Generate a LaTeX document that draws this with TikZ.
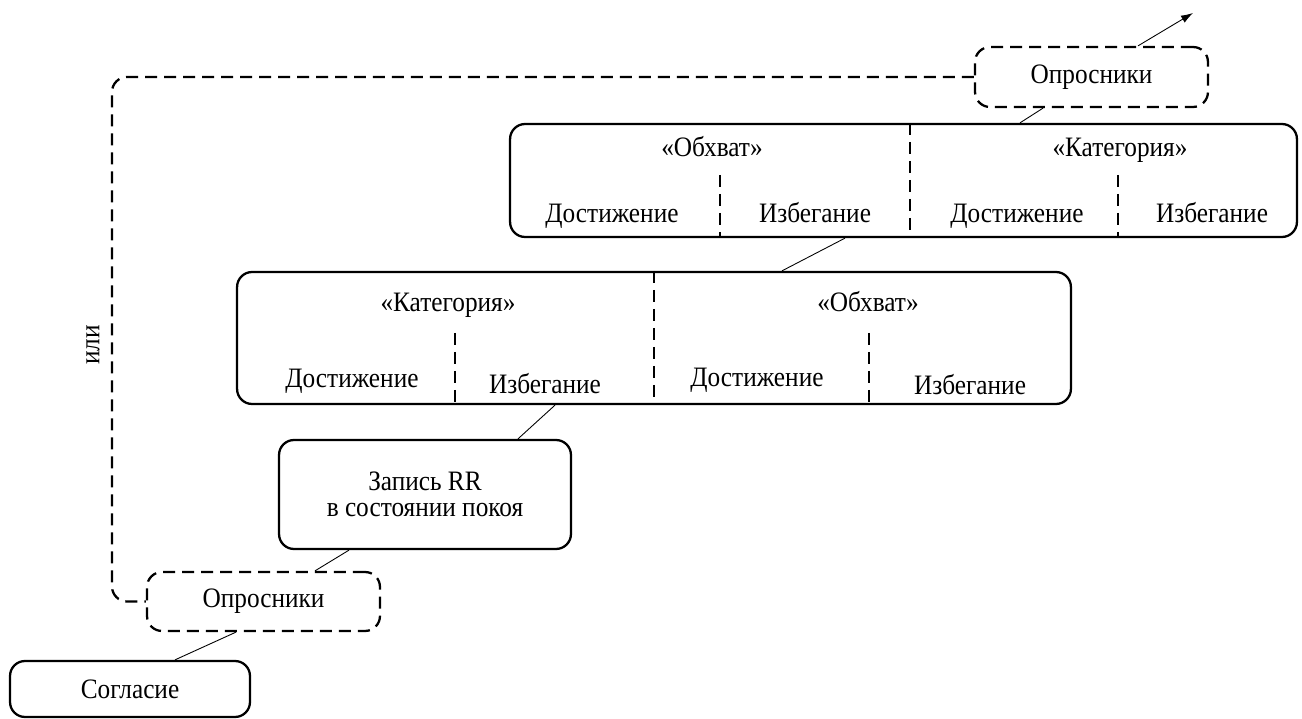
\documentclass[tikz,border=0pt]{standalone}
\usepackage{fontspec}
\setmainfont{Liberation Serif}[FakeStretch=0.9]
\usetikzlibrary{arrows.meta}

\tikzstyle{blk} = [rectangle, draw, rounded corners=0.3cm, line width=1.3pt, align=center, inner sep=0pt]
\tikzstyle{dblk} = [blk, dash pattern=on 0.24cm off 0.14cm]
\tikzstyle{lbl} = [font=\fontsize{16}{15}\selectfont, inner sep=0pt, align=center]
\tikzstyle{txt} = [lbl, anchor=base]
\tikzstyle{sep} = [line width=1.3pt, dash pattern=on 0.24cm off 0.14cm]
\tikzstyle{lnk} = [line width=0.5pt]

\begin{document}
\begin{tikzpicture}[x=0.02cm, y=-0.02cm, auto]
\useasboundingbox (0,0) rectangle (1302,719);
\node [dblk, lbl, minimum width=4.66cm, minimum height=1.2cm] (oprTop) at (1091.5,77) {Опросники};
\node [blk, minimum width=15.74cm, minimum height=2.26cm] (obxTop) at (903.5,180.5) {};
\node [blk, minimum width=16.68cm, minimum height=2.64cm] (katMid) at (654,338) {};
\node [blk, lbl, font=\fontsize{16}{14.5}\selectfont, minimum width=5.84cm, minimum height=2.18cm] (zapis) at (425,494.5) {Запись RR\\в состоянии покоя};
\node [dblk, lbl, minimum width=4.66cm, minimum height=1.18cm] (oprBot) at (263.5,601.5) {Опросники};
\node [blk, lbl, minimum width=4.8cm, minimum height=1.12cm] (soglasie) at (130,689) {Согласие};

% upper block
\node [txt] (obxTopA) at (712,157) {«Обхват»};
\node [txt] (obxTopB) at (1120,157) {«Категория»};
\node [txt] (obxTopA1) at (612,223) {Достижение};
\node [txt] (obxTopA2) at (815,223) {Избегание};
\node [txt] (obxTopB1) at (1017,223) {Достижение};
\node [txt] (obxTopB2) at (1212,223) {Избегание};
\draw [sep] ([xshift=0.13cm]obxTop.north) -- ([xshift=0.13cm]obxTop.south);
\coordinate (dA) at (720,175);
\coordinate (dB) at (1118,175);
\draw [sep] (dA) -- (dA |- obxTop.south);
\draw [sep] (dB) -- (dB |- obxTop.south);

% middle block
\node [txt] (katMidA) at (448,312) {«Категория»};
\node [txt] (katMidB) at (868,312) {«Обхват»};
\node [txt] (katMidA1) at (352,388) {Достижение};
\node [txt] (katMidA2) at (545,394) {Избегание};
\node [txt] (katMidB1) at (757,387) {Достижение};
\node [txt] (katMidB2) at (970,395) {Избегание};
\draw [sep] (katMid.north) -- (katMid.south);
\coordinate (dC) at (455,333);
\coordinate (dD) at (869,333);
\draw [sep] (dC) -- (dC |- katMid.south);
\draw [sep] (dD) -- (dD |- katMid.south);

% links
\coordinate (out) at (1193,13);
\draw [lnk, -{Latex[length=0.24cm,width=0.16cm]}] ([xshift=0.93cm]oprTop.north) -- (out);
\draw [lnk] ([xshift=-0.97cm]oprTop.south) -- ([xshift=2.33cm]obxTop.north);
\draw [lnk] ([xshift=-1.17cm]obxTop.south) -- ([xshift=2.56cm]katMid.north);
\draw [lnk] ([xshift=-1.98cm]katMid.south) -- ([xshift=1.86cm]zapis.north);
\draw [lnk] ([xshift=-1.52cm]zapis.south) -- ([xshift=1.03cm]oprBot.north);
\draw [lnk] ([xshift=-0.55cm]oprBot.south) -- ([xshift=0.9cm]soglasie.north);

% loop back
\coordinate (loopx) at (112,0);
\draw [sep, rounded corners=0.3cm] (oprTop.west) -- (oprTop.west -| loopx) -- (oprBot.west -| loopx) -- (oprBot.west);
\node [lbl, rotate=90] (ili) at (93,345) {или};
\end{tikzpicture}
\end{document}
